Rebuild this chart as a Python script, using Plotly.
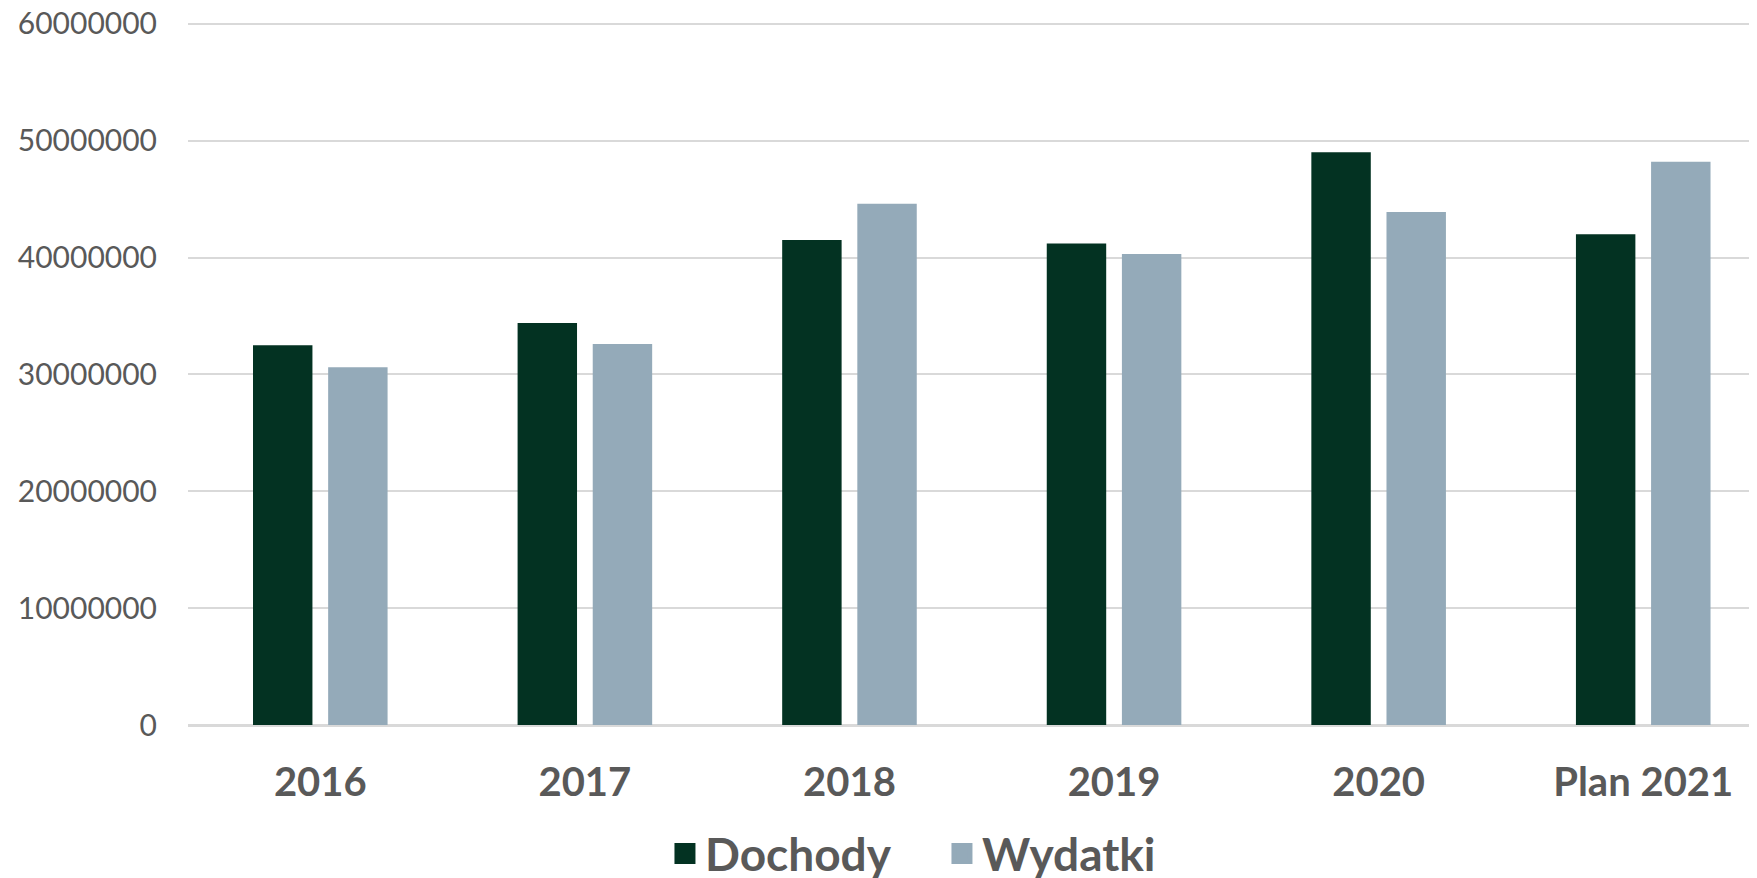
import plotly.graph_objects as go

categories = ["2016", "2017", "2018", "2019", "2020", "Plan 2021"]
dochody = [32500000, 34400000, 41500000, 41200000, 49000000, 42000000]
wydatki = [30600000, 32600000, 44600000, 40300000, 43900000, 48200000]
y_ticks = [0, 10000000, 20000000, 30000000, 40000000, 50000000, 60000000]

colors = {"Dochody": "#033222", "Wydatki": "#94AAB9"}

fig = go.Figure()
fig.add_trace(go.Bar(name="Dochody", x=categories, y=dochody, marker_color=colors["Dochody"],
                     marker_line_width=0, showlegend=False))
fig.add_trace(go.Bar(name="Wydatki", x=categories, y=wydatki, marker_color=colors["Wydatki"],
                     marker_line_width=0, showlegend=False))
# legend entries with larger square symbols
for name in ["Dochody", "Wydatki"]:
    fig.add_trace(go.Scatter(name=name, x=[None], y=[None], mode="markers",
                             marker=dict(symbol="square", size=16, color=colors[name],
                                         line=dict(color=colors[name], width=5))))

fig.update_layout(
    width=1749, height=870,
    paper_bgcolor="white", plot_bgcolor="white",
    margin=dict(l=180, r=0, t=14, b=153, autoexpand=False),
    barmode="group", bargap=0.432, bargroupgap=0.209,
    font=dict(family="Lato", color="#595959"),
    legend=dict(orientation="h", x=0.534, xref="container", xanchor="center",
                y=0.028, yref="container", yanchor="middle",
                font=dict(size=46, family="Lato", weight="bold", color="#595959"),
                itemwidth=30, tracegroupgap=0, entrywidth=232),
    showlegend=True,
)
fig.update_xaxes(
    range=[-0.5, 5.43], showgrid=False, showline=False, ticks="",
    tickangle=0, automargin=False,
    tickfont=dict(size=40, family="Lato", weight="bold", color="#595959"),
    ticklabelstandoff=30,
)
fig.update_yaxes(
    range=[0, 60150000], tickvals=y_ticks, ticktext=[str(v) for v in y_ticks],
    showgrid=True, gridcolor="#D9D9D9", gridwidth=2, automargin=False,
    zeroline=True, zerolinecolor="#D9D9D9", zerolinewidth=3,
    showline=False, ticks="", ticklabeloverflow="allow",
    tickfont=dict(size=30, family="Lato", color="#595959"),
    ticklabelstandoff=30,
)

fig.write_html("out.html")
